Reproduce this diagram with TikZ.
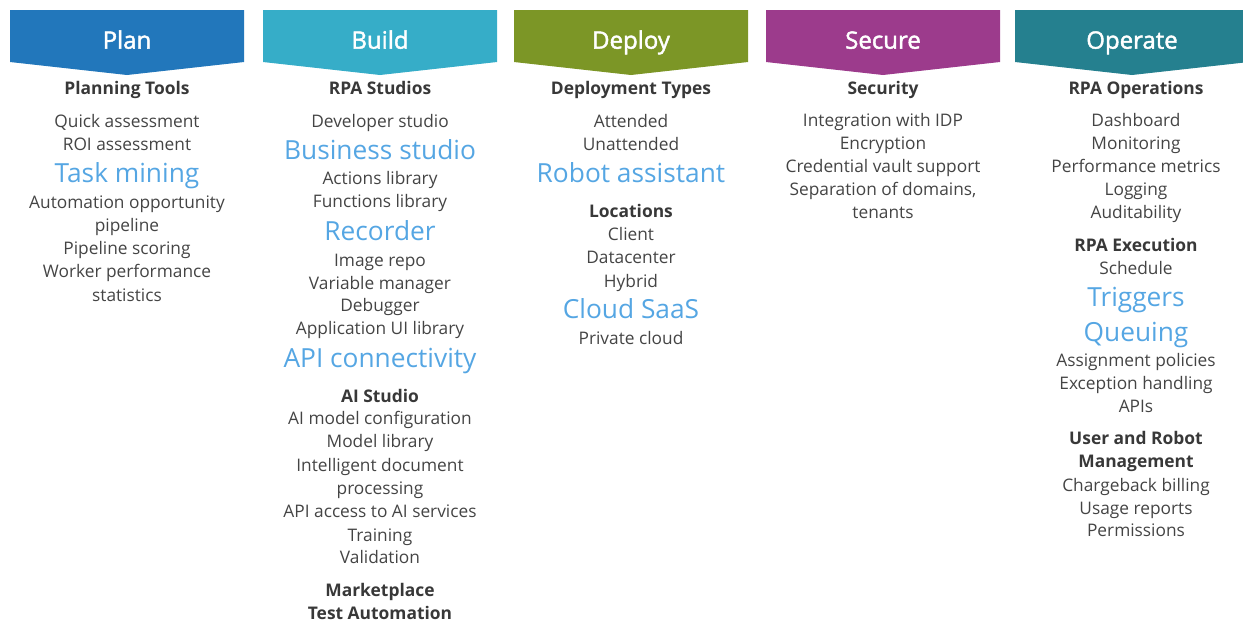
\documentclass[tikz,border=0pt]{standalone}
\usepackage{fontspec}
\setmainfont{Open Sans}
\newfontfamily\semib{Open Sans}[FakeBold=1.8]
\definecolor{cplan}{HTML}{2277BB}
\definecolor{cbuild}{HTML}{36ADC8}
\definecolor{cdeploy}{HTML}{7C9626}
\definecolor{csecure}{HTML}{9C3B8C}
\definecolor{coperate}{HTML}{25808F}
\definecolor{ctext}{HTML}{444444}
\definecolor{chead}{HTML}{383838}
\definecolor{cblue}{HTML}{55A6E3}
\tikzset{
  banner/.style={fill=#1, draw=none},
  title/.style={anchor=mid, yshift=-6pt, text=white, font=\fontsize{24}{27}\semib, inner sep=0pt},
  itm/.style={anchor=mid, yshift=-4pt, text=ctext, font=\fontsize{17.3}{20}\selectfont, inner sep=0pt},
  hdr/.style={anchor=mid, yshift=-4pt, text=chead, font=\fontsize{17.4}{20}\selectfont\bfseries, inner sep=0pt},
  big/.style={anchor=mid, yshift=-7pt, text=cblue, font=\fontsize{26.3}{29}\selectfont, inner sep=0pt},
}
\newcommand{\bannerat}[3]{%
  \fill[banner=#2] (#1,10) -- (#1+234,10) -- (#1+234,62) -- (#1+117,75) -- (#1,62) -- cycle;
  \node[title] (t#3) at (#1+117,40) {#3};}
\begin{document}
\begin{tikzpicture}[x=1pt,y=-1pt]
\useasboundingbox (0,0) rectangle (1243,622);
\begin{scope}
\clip (0,0) rectangle (1243,622);
\bannerat{10}{cplan}{Plan}
\bannerat{263}{cbuild}{Build}
\bannerat{514}{cdeploy}{Deploy}
\bannerat{766}{csecure}{Secure}
\bannerat{1015}{coperate}{Operate}
\end{scope}
% Plan
\node[hdr] (p0) at (127,88) {Planning Tools};
\node[itm] (p1) at (127,121) {Quick assessment};
\node[itm] (p2) at (127,144) {ROI assessment};
\node[big] (p3) at (127,173) {Task mining};
\node[itm] (p4) at (127,202) {Automation opportunity};
\node[itm] (p5) at (127,225) {pipeline};
\node[itm] (p6) at (127,248) {Pipeline scoring};
\node[itm] (p7) at (127,271) {Worker performance};
\node[itm] (p8) at (127,295) {statistics};
% Build
\node[hdr] (b0) at (380,88) {RPA Studios};
\node[itm] (b1) at (380,121) {Developer studio};
\node[big] (b2) at (380,150) {Business studio};
\node[itm] (b3) at (380,178) {Actions library};
\node[itm] (b4) at (380,201) {Functions library};
\node[big] (b5) at (380,231) {Recorder};
\node[itm] (b6) at (380,260) {Image repo};
\node[itm] (b7) at (380,283) {Variable manager};
\node[itm] (b8) at (380,305) {Debugger};
\node[itm] (b9) at (380,328) {Application UI library};
\node[big] (b10) at (380,358) {API connectivity};
\node[hdr] (b11) at (380,396) {AI Studio};
\node[itm] (b12) at (380,418) {AI model configuration};
\node[itm] (b13) at (380,441) {Model library};
\node[itm] (b14) at (380,465) {Intelligent document};
\node[itm] (b15) at (380,488) {processing};
\node[itm] (b16) at (380,511) {API access to AI services};
\node[itm] (b17) at (380,535) {Training};
\node[itm] (b18) at (380,557) {Validation};
\node[hdr] (b19) at (380,590) {Marketplace};
\node[hdr] (b20) at (380,613) {Test Automation};
% Deploy
\node[hdr] (d0) at (631,88) {Deployment Types};
\node[itm] (d1) at (631,121) {Attended};
\node[itm] (d2) at (631,144) {Unattended};
\node[big] (d3) at (631,173) {Robot assistant};
\node[hdr] (d4) at (631,211) {Locations};
\node[itm] (d5) at (631,234) {Client};
\node[itm] (d6) at (631,257) {Datacenter};
\node[itm] (d7) at (631,281) {Hybrid};
\node[big] (d8) at (631,309) {Cloud SaaS};
\node[itm] (d9) at (631,338) {Private cloud};
% Secure
\node[hdr] (s0) at (883,88) {Security};
\node[itm] (s1) at (883,120) {Integration with IDP};
\node[itm] (s2) at (883,143) {Encryption};
\node[itm] (s3) at (883,166) {Credential vault support};
\node[itm] (s4) at (883,189) {Separation of domains,};
\node[itm] (s5) at (883,212) {tenants};
% Operate
\node[hdr] (o0) at (1136,88) {RPA Operations};
\node[itm] (o1) at (1136,120) {Dashboard};
\node[itm] (o2) at (1136,143) {Monitoring};
\node[itm] (o3) at (1136,166) {Performance metrics};
\node[itm] (o4) at (1136,189) {Logging};
\node[itm] (o5) at (1136,212) {Auditability};
\node[hdr] (o6) at (1136,245) {RPA Execution};
\node[itm] (o7) at (1136,268) {Schedule};
\node[big] (o8) at (1136,297) {Triggers};
\node[big] (o9) at (1136,332) {Queuing};
\node[itm] (o10) at (1136,360) {Assignment policies};
\node[itm] (o11) at (1136,383) {Exception handling};
\node[itm] (o12) at (1136,406) {APIs};
\node[hdr] (o13) at (1136,438) {User and Robot};
\node[hdr] (o14) at (1136,461) {Management};
\node[itm] (o15) at (1136,485) {Chargeback billing};
\node[itm] (o16) at (1136,508) {Usage reports};
\node[itm] (o17) at (1136,530) {Permissions};
\end{tikzpicture}
\end{document}
